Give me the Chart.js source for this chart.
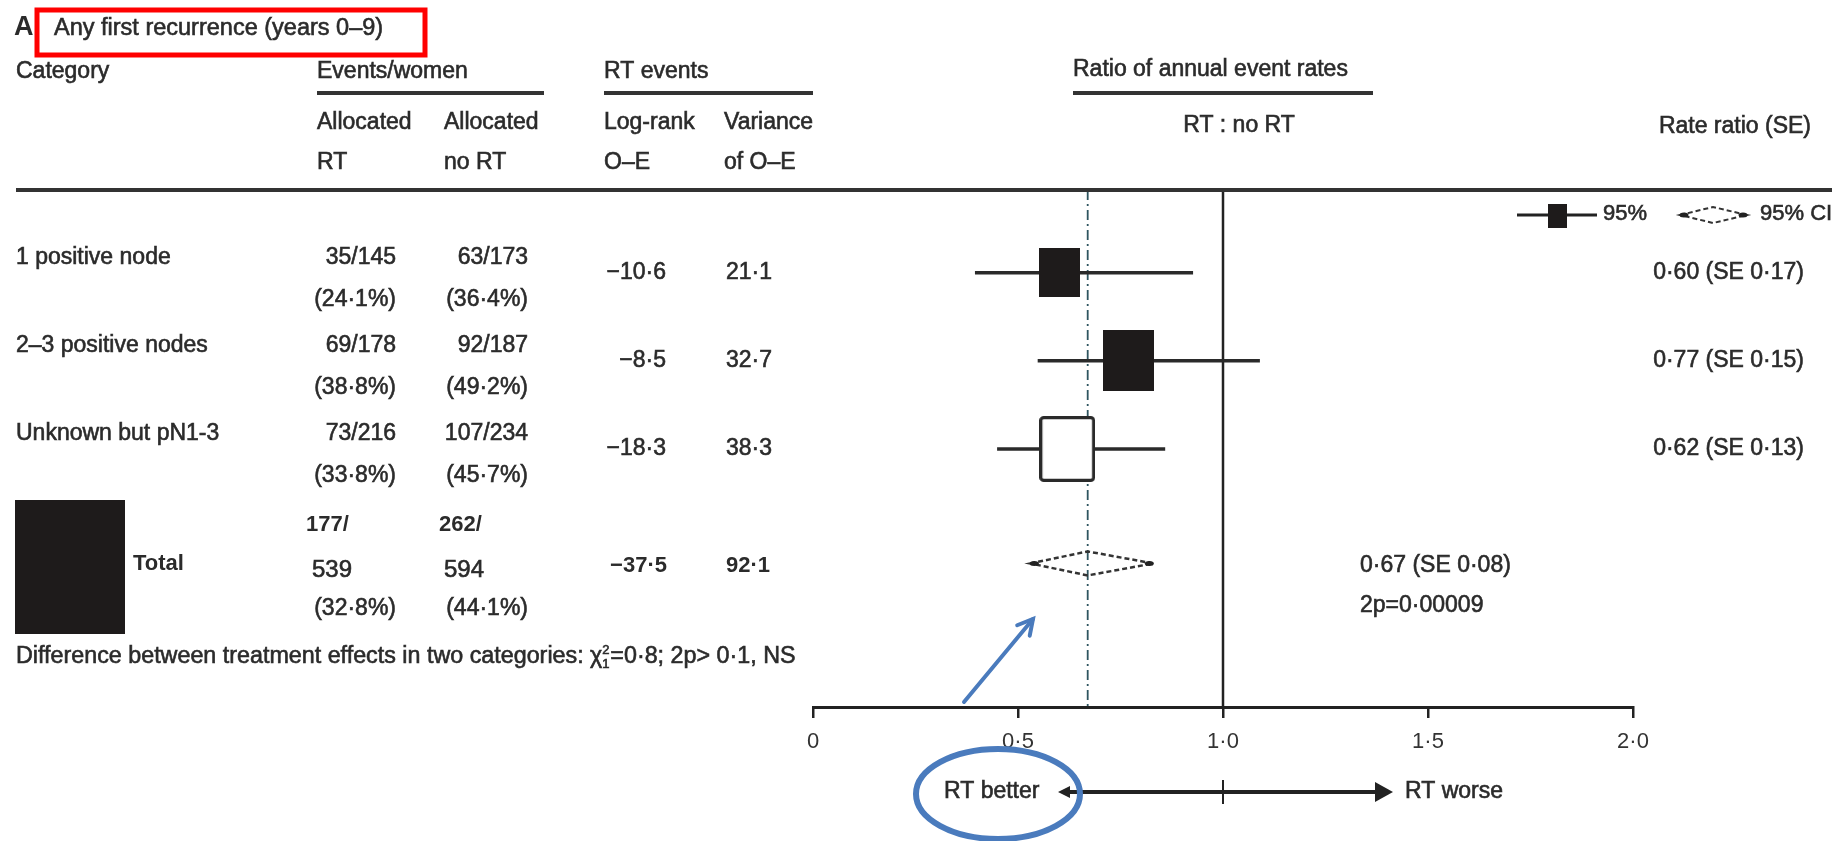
<!DOCTYPE html>
<html><head><meta charset="utf-8">
<script src="https://cdn.jsdelivr.net/npm/chart.js@4/dist/chart.umd.min.js"></script>
<style>html,body{margin:0;padding:0;background:#fff;overflow:hidden}canvas{display:block}</style>
</head><body>
<canvas id="c" width="1847" height="841"></canvas>
<script>
// ---------- data ----------
const categories = ['1 positive node', '2–3 positive nodes', 'Unknown but pN1-3'];
const eventsRT = ['35/145', '69/178', '73/216'];
const pctRT = ['(24·1%)', '(38·8%)', '(33·8%)'];
const eventsNoRT = ['63/173', '92/187', '107/234'];
const pctNoRT = ['(36·4%)', '(49·2%)', '(45·7%)'];
const logrankOE = ['−10·6', '−8·5', '−18·3'];
const varianceOE = [21.1, 32.7, 38.3];
const rateRatio = [0.60, 0.77, 0.62];
const rateSE = [0.17, 0.15, 0.13];
const ciLow = [0.395, 0.548, 0.449];
const ciHigh = [0.927, 1.09, 0.859];
const rowPos = [1, 2, 3];
const filledBox = [true, true, false];

const totalRT = ['177/', '539', '(32·8%)'];
const totalNoRT = ['262/', '594', '(44·1%)'];
const totalOE = '−37·5';
const totalVar = 92.1;
const totalRatio = 0.67;
const totalSE = 0.08;
const totalLow = 0.53;
const totalHigh = 0.83;
const totalP = '2p=0·00009';
const totalPos = 4.3;
const refValue = 1.0;

const xTicks = [0, 0.5, 1, 1.5, 2];
const xTickLabels = ['0', '0·5', '1·0', '1·5', '2·0'];

// ---------- style ----------
const FONT = '"Liberation Sans", Arial, sans-serif';
const TXT = '#2b2b2b';
const Y_MIN = 0.06, Y_MAX = 5.93;

function dot(v, d) { return v.toFixed(d).replace('.', '·'); }

function makeBox(w, h, filled) {
  const c = document.createElement('canvas');
  c.width = Math.round(w); c.height = Math.round(h);
  const g = c.getContext('2d');
  if (filled) {
    g.fillStyle = '#1e1b1b';
    g.fillRect(0, 0, c.width, c.height);
  } else {
    g.fillStyle = '#fff';
    g.fillRect(0, 0, c.width, c.height);
    g.strokeStyle = '#2a2a2a';
    g.lineWidth = 3.2;
    g.beginPath();
    g.roundRect(1.6, 1.6, c.width - 3.2, c.height - 3.2, 3);
    g.stroke();
  }
  return c;
}
const boxStyles = varianceOE.map((v, i) => makeBox(9.0 * Math.sqrt(v), 10.6 * Math.sqrt(v), filledBox[i]));

function txt(ctx, s, x, y, o = {}) {
  ctx.font = `${o.bold ? 'bold ' : ''}${o.size || 23}px ${FONT}`;
  ctx.fillStyle = o.color || TXT;
  ctx.textAlign = o.align || 'left';
  ctx.textBaseline = 'middle';
  ctx.fillText(s, x, y);
  if (!o.bold) {
    ctx.lineWidth = 0.6;
    ctx.strokeStyle = o.color || TXT;
    ctx.strokeText(s, x, y);
  }
  return ctx.measureText(s).width;
}
function hline(ctx, x1, x2, y, w, col) {
  ctx.save();
  ctx.beginPath(); ctx.moveTo(x1, y); ctx.lineTo(x2, y);
  ctx.lineWidth = w; ctx.strokeStyle = col || '#333'; ctx.stroke();
  ctx.restore();
}
function diamond(ctx, xl, xc, xr, yc, hh, lw) {
  ctx.save();
  ctx.beginPath();
  ctx.moveTo(xl, yc); ctx.lineTo(xc, yc - hh); ctx.lineTo(xr, yc); ctx.lineTo(xc, yc + hh); ctx.closePath();
  ctx.setLineDash([5, 3]);
  ctx.lineWidth = lw; ctx.strokeStyle = '#333'; ctx.stroke();
  ctx.setLineDash([]);
  ctx.fillStyle = '#222';
  [[xl + 4, yc], [xr - 4, yc]].forEach(p => { ctx.beginPath(); ctx.ellipse(p[0], p[1], 4.5, 2.5, 0, 0, Math.PI * 2); ctx.fill(); });
  ctx.restore();
}

const tablePlugin = {
  id: 'table',
  afterDatasetsDraw(chart) {
    const ctx = chart.ctx, xs = chart.scales.x, ys = chart.scales.y;
    diamond(ctx, xs.getPixelForValue(totalLow), xs.getPixelForValue(totalRatio), xs.getPixelForValue(totalHigh), ys.getPixelForValue(totalPos), 12, 2.5);
  },
  afterDraw(chart) {
    const ctx = chart.ctx, xs = chart.scales.x, ys = chart.scales.y;
    ctx.save();
    // title
    txt(ctx, 'A', 14, 28, { size: 27, bold: true });
    txt(ctx, 'Any first recurrence (years 0–9)', 54, 29, { size: 23.5 });
    ctx.strokeStyle = '#ff0000'; ctx.lineWidth = 5;
    ctx.strokeRect(37, 10, 388, 45);

    // headers
    txt(ctx, 'Category', 16, 72);
    txt(ctx, 'Events/women', 317, 72);
    txt(ctx, 'RT events', 604, 72);
    txt(ctx, 'Ratio of annual event rates', 1073, 70);
    hline(ctx, 317, 544, 93, 4);
    hline(ctx, 604, 813, 93, 4);
    hline(ctx, 1073, 1373, 93, 4);
    txt(ctx, 'Allocated', 317, 123); txt(ctx, 'RT', 317, 163);
    txt(ctx, 'Allocated', 444, 123); txt(ctx, 'no RT', 444, 163);
    txt(ctx, 'Log-rank', 604, 123); txt(ctx, 'O–E', 604, 163);
    txt(ctx, 'Variance', 724, 123); txt(ctx, 'of O–E', 724, 163);
    txt(ctx, 'RT : no RT', xs.getPixelForValue(refValue) + 16, 126, { align: 'center' });
    txt(ctx, 'Rate ratio (SE)', 1811, 127, { align: 'right' });
    hline(ctx, 16, 1832, 190, 4);

    // legend
    hline(ctx, 1517, 1597, 215, 3, '#222');
    ctx.fillStyle = '#1e1b1b'; ctx.fillRect(1548, 204, 19, 24);
    txt(ctx, '95%', 1603, 214, { size: 22 });
    diamond(ctx, 1680, 1713, 1747, 215, 8, 2);
    txt(ctx, '95% CI', 1760, 214, { size: 22 });

    // rows
    rowPos.forEach((r, i) => {
      const yc = ys.getPixelForValue(r);
      const y1 = yc - 15, y2 = yc + 27;
      txt(ctx, categories[i], 16, y1);
      txt(ctx, eventsRT[i], 396, y1, { align: 'right' });
      txt(ctx, pctRT[i], 396, y2, { align: 'right' });
      txt(ctx, eventsNoRT[i], 528, y1, { align: 'right' });
      txt(ctx, pctNoRT[i], 528, y2, { align: 'right' });
      txt(ctx, logrankOE[i], 666, yc, { align: 'right' });
      txt(ctx, dot(varianceOE[i], 1), 726, yc);
      txt(ctx, `${dot(rateRatio[i], 2)} (SE ${dot(rateSE[i], 2)})`, 1804, yc, { align: 'right' });
    });

    // total
    const yt = ys.getPixelForValue(totalPos);
    ctx.fillStyle = '#1e1b1b'; ctx.fillRect(15, 500, 110, 134);
    txt(ctx, 'Total', 133, yt, { bold: true, size: 22 });
    txt(ctx, totalRT[0], 306, yt - 39, { bold: true, size: 22 });
    txt(ctx, totalRT[1], 312, yt + 7, { size: 24 });
    txt(ctx, totalRT[2], 396, yt + 45, { align: 'right' });
    txt(ctx, totalNoRT[0], 439, yt - 39, { bold: true, size: 22 });
    txt(ctx, totalNoRT[1], 444, yt + 7, { size: 24 });
    txt(ctx, totalNoRT[2], 528, yt + 45, { align: 'right' });
    txt(ctx, totalOE, 667, yt + 2, { align: 'right', bold: true, size: 22 });
    txt(ctx, dot(totalVar, 1), 726, yt + 2, { bold: true, size: 22 });
    txt(ctx, `${dot(totalRatio, 2)} (SE ${dot(totalSE, 2)})`, 1360, yt + 2);
    txt(ctx, totalP, 1360, yt + 42);

    // footnote with chi-square
    let w = txt(ctx, 'Difference between treatment effects in two categories: χ', 16, 657, { size: 23.3 });
    txt(ctx, '2', 16 + w, 650, { size: 13 });
    txt(ctx, '1', 16 + w, 664, { size: 13 });
    txt(ctx, '=0·8; 2p> 0·1, NS', 16 + w + 8, 657, { size: 23.3 });

    // RT better / worse arrow
    const ya = 792;
    txt(ctx, 'RT better', 944, ya);
    hline(ctx, 1066, 1378, ya, 4, '#222');
    ctx.fillStyle = '#222';
    ctx.beginPath(); ctx.moveTo(1058, ya); ctx.lineTo(1070, ya - 6); ctx.lineTo(1070, ya + 6); ctx.closePath(); ctx.fill();
    ctx.beginPath(); ctx.moveTo(1393, ya); ctx.lineTo(1375, ya - 10); ctx.lineTo(1375, ya + 10); ctx.closePath(); ctx.fill();
    const xr = xs.getPixelForValue(refValue);
    ctx.beginPath(); ctx.moveTo(xr, 780); ctx.lineTo(xr, 804); ctx.lineWidth = 2; ctx.strokeStyle = '#222'; ctx.stroke();
    txt(ctx, 'RT worse', 1405, ya);

    // blue annotations
    ctx.strokeStyle = '#4a7bbd';
    ctx.lineWidth = 6;
    ctx.beginPath(); ctx.ellipse(998, 794, 82, 45, 0, 0, Math.PI * 2); ctx.stroke();
    ctx.lineWidth = 4; ctx.lineCap = 'round';
    const ax1 = 964, ay1 = 702, ax2 = 1033, ay2 = 619;
    ctx.beginPath(); ctx.moveTo(ax1, ay1); ctx.lineTo(ax2, ay2); ctx.stroke();
    const ang = Math.atan2(ay2 - ay1, ax2 - ax1);
    ctx.beginPath();
    ctx.moveTo(ax2 - 17 * Math.cos(ang - 0.5), ay2 - 17 * Math.sin(ang - 0.5));
    ctx.lineTo(ax2, ay2);
    ctx.lineTo(ax2 - 17 * Math.cos(ang + 0.5), ay2 - 17 * Math.sin(ang + 0.5));
    ctx.stroke();
    ctx.restore();
  }
};

// ---------- datasets ----------
const datasets = [];
datasets.push({
  label: 'boxes', order: 0,
  data: rowPos.map((r, i) => ({ x: rateRatio[i], y: r })),
  pointStyle: boxStyles, pointRadius: 10, showLine: false
});
rowPos.forEach((r, i) => datasets.push({
  label: 'CI ' + categories[i], order: 1, showLine: true,
  data: [{ x: ciLow[i], y: r }, { x: ciHigh[i], y: r }],
  borderColor: '#2a2a2a', borderWidth: 3.5, pointRadius: 0
}));
datasets.push({
  label: 'no effect', order: 2, showLine: true,
  data: [{ x: refValue, y: Y_MIN }, { x: refValue, y: Y_MAX }],
  borderColor: '#222', borderWidth: 2.5, pointRadius: 0
});
datasets.push({
  label: 'overall', order: 3, showLine: true,
  data: [{ x: totalRatio, y: Y_MIN }, { x: totalRatio, y: Y_MAX }],
  borderColor: '#2f5560', borderWidth: 1.8, borderDash: [10, 4, 2, 4], pointRadius: 0
});

new Chart(document.getElementById('c'), {
  type: 'scatter',
  data: { datasets },
  options: {
    responsive: false, animation: false, events: [],
    layout: { padding: { left: 813, right: 214, top: 190, bottom: 0 } },
    plugins: { legend: { display: false }, tooltip: { enabled: false } },
    scales: {
      x: {
        type: 'linear', min: 0, max: 2,
        afterBuildTicks: s => { s.ticks = xTicks.map(v => ({ value: v })); },
        ticks: {
          callback: v => { const i = xTicks.indexOf(v); return i >= 0 ? xTickLabels[i] : ''; },
          font: { family: FONT, size: 22 }, color: '#333', padding: 11, maxRotation: 0, autoSkip: false
        },
        grid: { display: true, drawOnChartArea: false, drawTicks: true, tickLength: 11, lineWidth: 2.5, color: '#222' },
        border: { display: true, color: '#222', width: 3 },
        afterFit: s => { s.height = 134; }
      },
      y: { type: 'linear', reverse: true, min: Y_MIN, max: Y_MAX, display: false }
    }
  },
  plugins: [tablePlugin]
});
</script>
</body></html>
